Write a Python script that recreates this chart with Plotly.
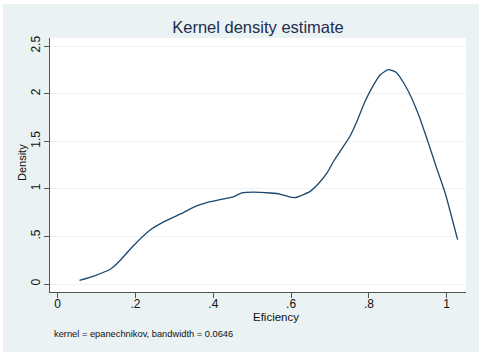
import plotly.graph_objects as go

# Kernel density of efficiency scores (evaluation grid and density values)
efficiency = [0.056, 0.096, 0.134, 0.156, 0.194, 0.237, 0.276, 0.323, 0.357, 0.379,
              0.417, 0.451, 0.473, 0.503, 0.546, 0.571, 0.593, 0.610, 0.627, 0.649,
              0.670, 0.692, 0.709, 0.730, 0.751, 0.769, 0.790, 0.811, 0.830, 0.850,
              0.871, 0.890, 0.910, 0.931, 0.953, 0.974, 0.996, 1.028]
density = [0.037, 0.089, 0.152, 0.229, 0.400, 0.565, 0.660, 0.750, 0.820, 0.850,
           0.886, 0.914, 0.956, 0.966, 0.956, 0.945, 0.917, 0.907, 0.931, 0.973,
           1.053, 1.165, 1.287, 1.417, 1.549, 1.707, 1.916, 2.084, 2.200, 2.252,
           2.220, 2.109, 1.952, 1.742, 1.480, 1.218, 0.956, 0.466]

x_ticks = [0, 0.2, 0.4, 0.6, 0.8, 1.0]
x_tick_labels = ["0", ".2", ".4", ".6", ".8", "1"]
y_ticks = [0, 0.5, 1.0, 1.5, 2.0, 2.5]
y_tick_labels = ["0", ".5", "1", "1.5", "2", "2.5"]

BG = "#EAF2F3"
AXIS = "#555555"
FONT = "Liberation Sans, Arial, Helvetica, sans-serif"

fig = go.Figure()
fig.add_trace(go.Scatter(
    x=efficiency, y=density, mode="lines",
    line=dict(color="#1a476f", width=1.3, shape="spline", smoothing=0.5),
    hoverinfo="skip", showlegend=False,
))

fig.update_layout(
    width=479, height=352,
    margin=dict(l=50, r=13, t=38, b=60),
    paper_bgcolor=BG, plot_bgcolor="white",
    font=dict(family=FONT, color="#111111", size=12),
    title=dict(text="Kernel density estimate", x=(258) / 479, xanchor="center",
               y=1 - 27 / 352, yanchor="middle", yref="container",
               font=dict(size=16.5, color="#1f2d4e", family=FONT)),
    xaxis=dict(
        range=[-0.0198, 1.0496], tickvals=x_ticks, ticktext=x_tick_labels,
        showgrid=False, zeroline=False, showline=True, linecolor=AXIS, linewidth=1,
        ticks="outside", ticklen=5, tickcolor=AXIS, tickwidth=1,
        tickfont=dict(size=12), ticklabelstandoff=-4,
    ),
    yaxis=dict(
        range=[-0.084, 2.584], tickvals=y_ticks, ticktext=y_tick_labels,
        tickangle=-90, showgrid=True, gridcolor=BG, gridwidth=1,
        zeroline=False, showline=True, linecolor=AXIS, linewidth=1,
        ticks="outside", ticklen=5, tickcolor=AXIS, tickwidth=1,
        tickfont=dict(size=12), ticklabelstandoff=-1,
    ),
    annotations=[
        dict(text="Eficiency", xref="paper", yref="paper",
             x=(276 - 50) / 416, y=(292 - 317) / 254,
             xanchor="center", yanchor="middle", showarrow=False,
             font=dict(size=11.5)),
        dict(text="Density", xref="paper", yref="paper",
             x=(22 - 50) / 416, y=(292 - 163) / 254, textangle=-90,
             xanchor="center", yanchor="middle", showarrow=False,
             font=dict(size=11)),
        dict(text="kernel = epanechnikov, bandwidth = 0.0646", xref="paper", yref="paper",
             x=(52 - 50) / 416, y=(292 - 334) / 254,
             xanchor="left", yanchor="middle", showarrow=False,
             font=dict(size=9.3)),
    ],
    shapes=[
        # thin white border along the top and left edges of the canvas
        dict(type="rect", xref="paper", yref="paper",
             x0=-50 / 416, x1=-47 / 416, y0=-60 / 254, y1=314 / 254,
             fillcolor="white", line=dict(width=0), layer="below"),
        dict(type="rect", xref="paper", yref="paper",
             x0=-50 / 416, x1=429 / 416, y0=(292 - 4) / 254, y1=314 / 254,
             fillcolor="white", line=dict(width=0), layer="below"),
    ],
)

fig.write_html("out.html")
